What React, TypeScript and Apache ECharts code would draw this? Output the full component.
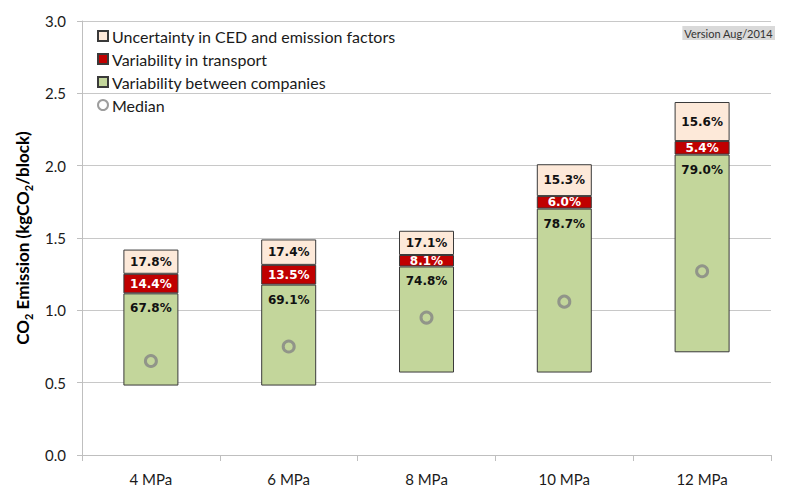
import React, { useEffect, useRef } from 'react';
import * as echarts from 'echarts';

const categories = ['4 MPa', '6 MPa', '8 MPa', '10 MPa', '12 MPa'];
const lowValues = [0.48, 0.48, 0.57, 0.57, 0.71];
const highValues = [1.42, 1.49, 1.55, 2.01, 2.44];
const companiesShare = [67.8, 69.1, 74.8, 78.7, 79.0];
const transportShare = [14.4, 13.5, 8.1, 6.0, 5.4];
const cedShare = [17.8, 17.4, 17.1, 15.3, 15.6];
const medianValues = [0.65, 0.75, 0.95, 1.06, 1.27];

const NAME_CED = 'Uncertainty in CED and emission factors';
const NAME_TRANSPORT = 'Variability in transport';
const NAME_COMPANIES = 'Variability between companies';
const NAME_MEDIAN = 'Median';

export default function App() {
  const ref = useRef<HTMLDivElement>(null);
  useEffect(() => {
    if (!ref.current) return;
    const chart = echarts.init(ref.current, undefined, { renderer: 'svg' });
    const ranges = highValues.map((h, i) => h - lowValues[i]);
    const seg = (shares: number[]) => shares.map((s, i) => (ranges[i] * s) / 100);
    const fmt = (shares: number[]) => (p: any) => shares[p.dataIndex].toFixed(1) + '%';
    const font = 'Lato, "Liberation Sans", sans-serif';
    const labelFont = '"DejaVu Sans", Verdana, sans-serif';
    const border = { borderColor: '#3a3a3a', borderWidth: 1 };
    chart.setOption({
      animation: false,
      backgroundColor: '#ffffff',
      grid: { left: 82, right: 21, top: 21, bottom: 33 },
      legend: {
        orient: 'vertical',
        left: 92,
        top: 23,
        itemWidth: 10,
        itemHeight: 10,
        itemGap: 7,
        selectedMode: false,
        data: [
          { name: NAME_CED, icon: 'rect' },
          { name: NAME_TRANSPORT, icon: 'rect' },
          { name: NAME_COMPANIES, icon: 'rect' },
          { name: NAME_MEDIAN, icon: 'circle' },
        ],
        textStyle: { fontFamily: font, fontSize: 16, color: '#1a1a1a', padding: [0, 0, 0, -1] },
      },
      graphic: [
        {
          type: 'text',
          right: 17,
          top: 26,
          style: {
            text: 'Version Aug/2014',
            fontFamily: font,
            fontSize: 11,
            fill: '#333',
            backgroundColor: '#d9d9d9',
            padding: [2, 2, 1, 2],
          },
        },
      ],
      xAxis: {
        type: 'category',
        data: categories,
        axisLine: { lineStyle: { color: '#bfbfbf' } },
        axisTick: { show: true, alignWithLabel: false, length: 6, lineStyle: { color: '#bfbfbf' } },
        axisLabel: { fontFamily: font, fontSize: 15, color: '#1a1a1a', margin: 16 },
      },
      yAxis: {
        type: 'value',
        min: 0,
        max: 3,
        interval: 0.5,
        name: '{a|CO}{s|2}{a| Emission (kgCO}{s|2}{a|/block)}',
        nameLocation: 'middle',
        nameGap: 39,
        nameTextStyle: {
          rich: {
            a: { fontFamily: font, fontSize: 17, fontWeight: 'bold', color: '#000', lineHeight: 22, verticalAlign: 'bottom' },
            s: { fontFamily: font, fontSize: 11, fontWeight: 'bold', color: '#000', lineHeight: 22, verticalAlign: 'bottom', padding: [0, 0, -3, 0] },
          },
        },
        axisLine: { show: true, lineStyle: { color: '#bfbfbf' } },
        axisTick: { show: true, length: 5, lineStyle: { color: '#bfbfbf' } },
        axisLabel: { fontFamily: font, fontSize: 15, color: '#1a1a1a', margin: 16, formatter: (v: number) => v.toFixed(1) },
        splitLine: { lineStyle: { color: '#c8c8c8' } },
      },
      series: [
        {
          name: 'base',
          type: 'bar',
          stack: 'total',
          barWidth: 55,
          data: lowValues,
          itemStyle: { color: 'rgba(0,0,0,0)' },
          silent: true,
        },
        {
          name: NAME_COMPANIES,
          type: 'bar',
          stack: 'total',
          data: seg(companiesShare),
          itemStyle: { color: '#c3d69b', ...border },
          label: {
            show: true,
            position: 'insideTop',
            distance: 9,
            formatter: fmt(companiesShare),
            fontFamily: labelFont,
            fontWeight: 'bold',
            fontSize: 12,
            color: '#111',
          },
        },
        {
          name: NAME_TRANSPORT,
          type: 'bar',
          stack: 'total',
          data: seg(transportShare),
          itemStyle: { color: '#c00000', ...border },
          label: {
            show: true,
            position: 'inside',
            formatter: fmt(transportShare),
            fontFamily: labelFont,
            fontWeight: 'bold',
            fontSize: 12,
            color: '#ffffff',
          },
        },
        {
          name: NAME_CED,
          type: 'bar',
          stack: 'total',
          data: seg(cedShare),
          itemStyle: { color: '#fde9d9', ...border },
          label: {
            show: true,
            position: 'inside',
            formatter: fmt(cedShare),
            fontFamily: labelFont,
            fontWeight: 'bold',
            fontSize: 12,
            color: '#111',
          },
        },
        {
          name: NAME_MEDIAN,
          type: 'scatter',
          data: medianValues,
          symbol: 'circle',
          symbolSize: 11,
          z: 5,
          itemStyle: { color: 'rgba(0,0,0,0)', borderColor: '#858585', borderWidth: 3 },
        },
      ],
    });
    return () => chart.dispose();
  }, []);
  return <div ref={ref} style={{ position: 'absolute', left: 0, top: 0, width: 792, height: 488 }} />;
}
